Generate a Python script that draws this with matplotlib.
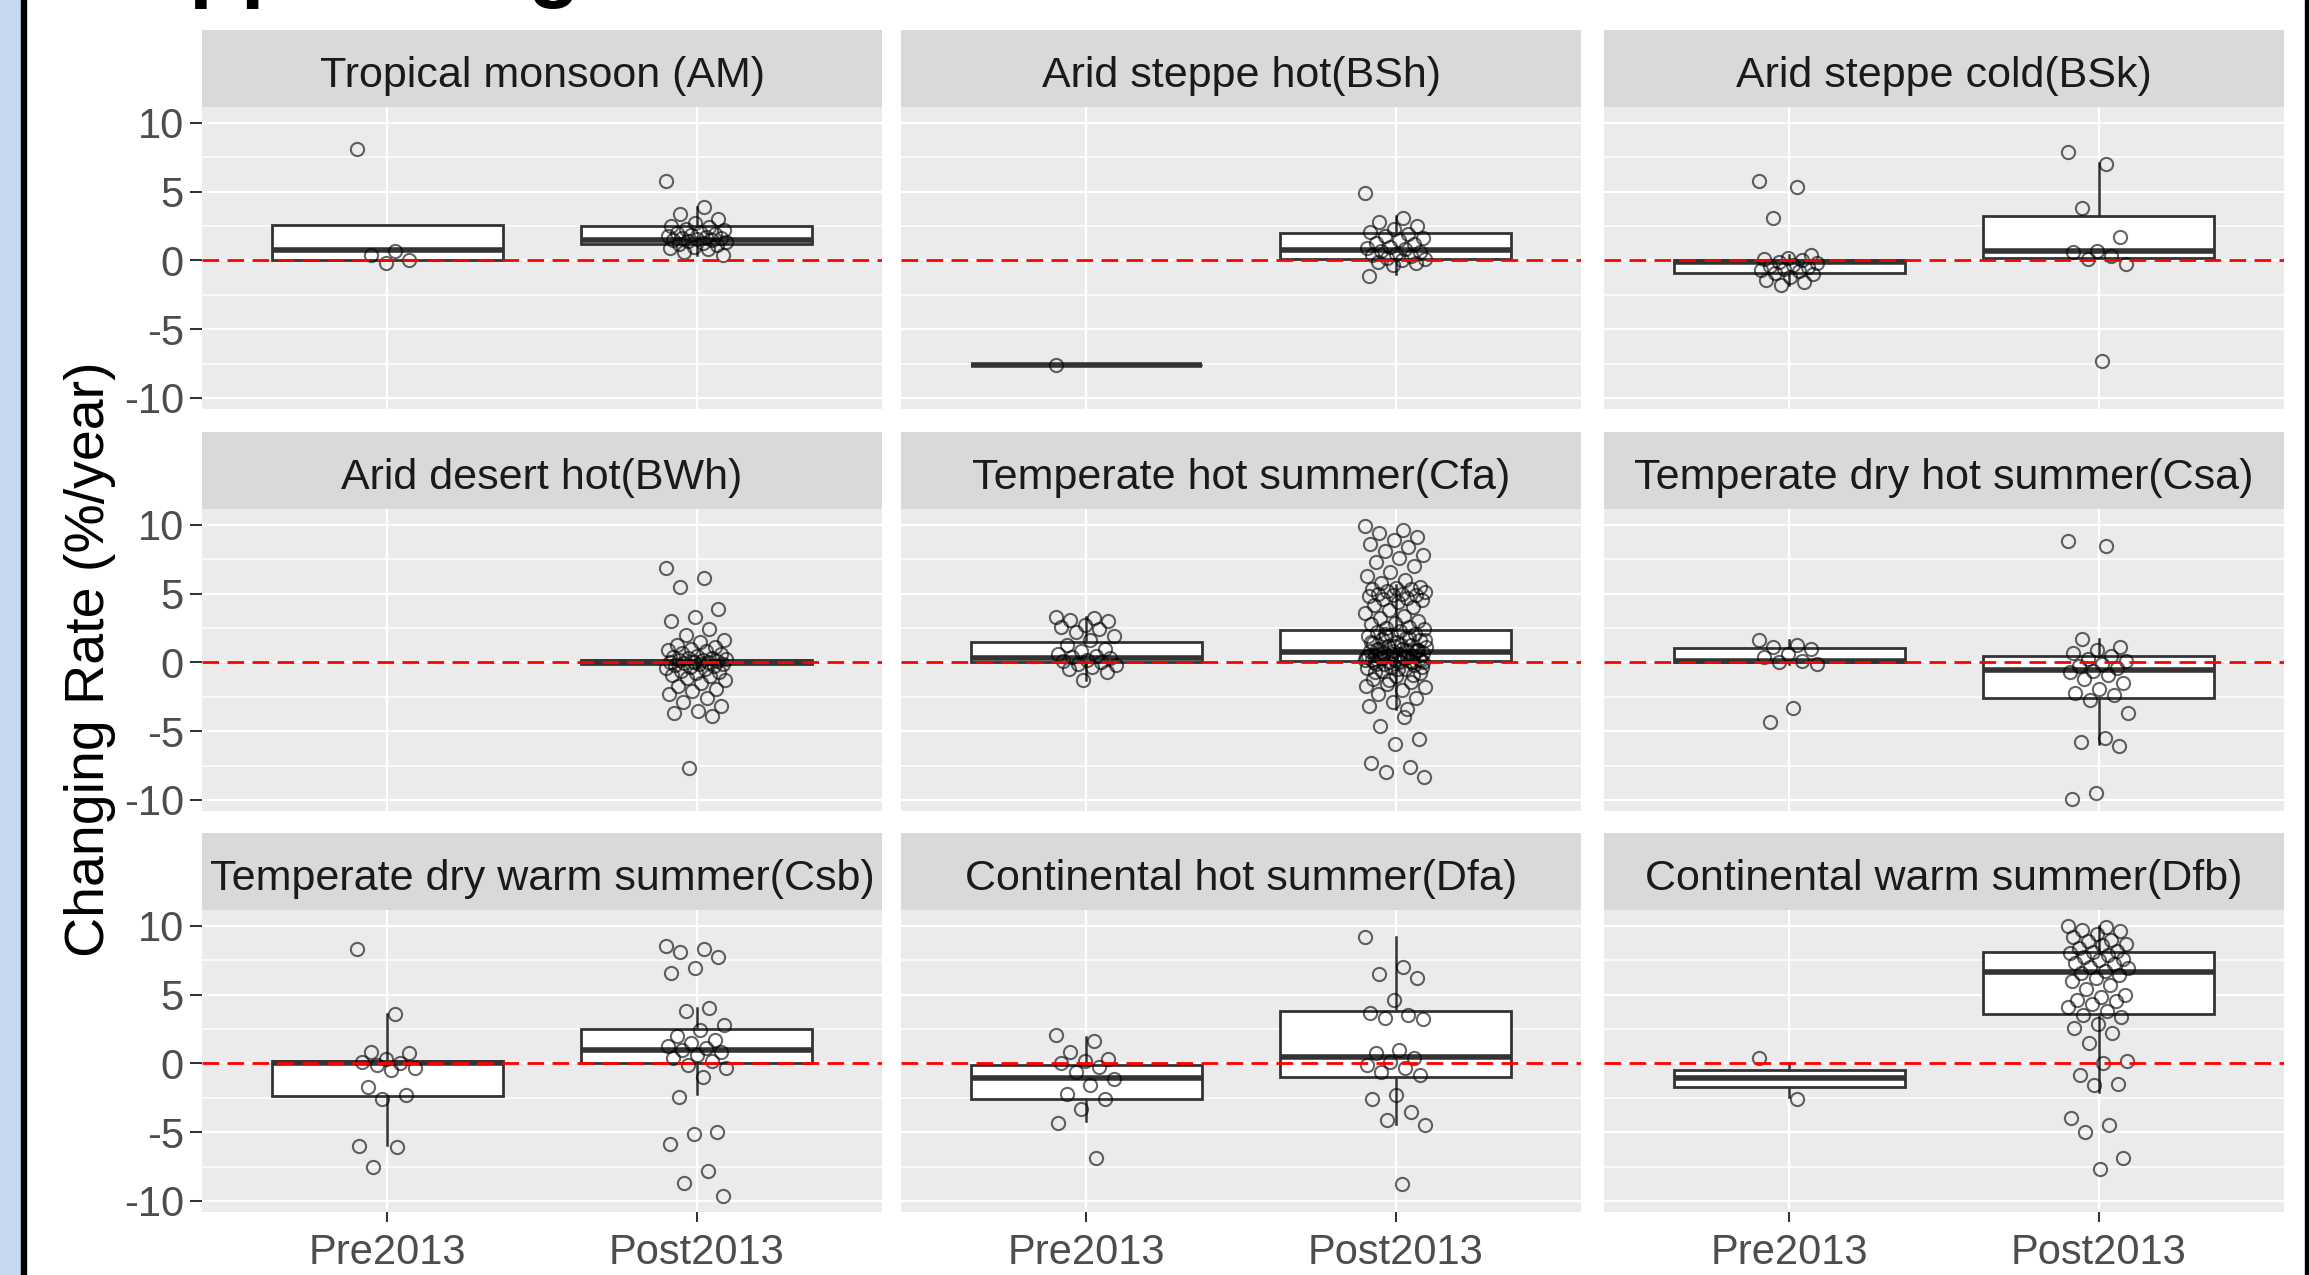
import numpy as np
import matplotlib.pyplot as plt
from matplotlib.patches import Rectangle

plt.rcParams['font.family'] = ['Liberation Sans', 'DejaVu Sans']
plt.rcParams['axes.unicode_minus'] = False

# ---- data ----
zones = ['Tropical monsoon (AM)', 'Arid steppe hot(BSh)', 'Arid steppe cold(BSk)',
         'Arid desert hot(BWh)', 'Temperate hot summer(Cfa)', 'Temperate dry hot summer(Csa)',
         'Temperate dry warm summer(Csb)', 'Continental hot summer(Dfa)', 'Continental warm summer(Dfb)']
groups = ['Pre2013', 'Post2013']

am_pre = [8.1, 0.7, 0.4, 0.0, -0.2]
am_post = [5.75, 3.9, 3.4, 3.0, 2.7, 2.5, 2.4, 2.3, 2.2, 2.1, 2.0, 1.9, 1.85, 1.8, 1.7, 1.65,
           1.6, 1.55, 1.5, 1.45, 1.4, 1.35, 1.3, 1.2, 1.1, 1.0, 0.9, 0.8, 0.6, 0.4]
bsh_pre = [-7.6]
bsh_post = [4.9, 3.05, 2.8, 2.5, 2.3, 2.1, 1.9, 1.8, 1.6, 1.5, 1.3, 1.2, 1.0, 0.9, 0.8, 0.7,
            0.6, 0.5, 0.4, 0.3, 0.2, 0.1, 0.0, -0.1, -0.2, -0.3, -1.1]
bsk_pre = [5.75, 5.3, 3.1, 0.4, 0.2, 0.1, 0.0, -0.1, -0.2, -0.3, -0.4, -0.5, -0.6, -0.7,
           -0.8, -0.9, -1.0, -1.2, -1.4, -1.6, -1.8]
bsk_post = [7.9, 7.0, 3.8, 1.7, 0.7, 0.6, 0.35, 0.1, -0.25, -7.3]
bwh_pre = []
bwh_post = [6.85, 6.1, 5.5, 3.9, 3.3, 3.0, 2.4, 2.0, 1.6, 1.5, 1.3, 1.1, 1.0, 0.9, 0.8, 0.7,
            0.6, 0.5, 0.4, 0.35, 0.3, 0.25, 0.2, 0.15, 0.1, 0.05, 0.0, 0.0, -0.05, -0.1,
            -0.15, -0.2, -0.25, -0.3, -0.4, -0.5, -0.6, -0.7, -0.8, -0.9, -1.0, -1.1, -1.3,
            -1.5, -1.7, -1.9, -2.1, -2.3, -2.6, -2.9, -3.2, -3.5, -3.7, -3.9, -7.7]
cfa_pre = [3.3, 3.2, 3.1, 3.0, 2.7, 2.6, 2.4, 2.2, 1.9, 1.6, 1.3, 1.0, 0.8, 0.6, 0.5, 0.4,
           0.3, 0.2, 0.1, 0.0, -0.1, -0.2, -0.3, -0.5, -0.7, -1.3]
cfa_post = [9.9, 9.6, 9.4, 9.1, 8.9, 8.6, 8.4, 8.1, 7.8, 7.6, 7.3, 7.0, 6.6, 6.3, 6.0, 5.8,
            5.5, 5.4, 5.3, 5.3, 5.2, 5.1, 5.0, 5.0, 4.9, 4.9, 4.8, 4.7, 4.6, 4.5, 4.4, 4.2,
            4.0, 3.8, 3.6, 3.4, 3.2, 3.0, 2.9, 2.8, 2.6, 2.5, 2.4, 2.3, 2.2, 2.1, 2.0, 1.9,
            1.8, 1.7, 1.6, 1.5, 1.4, 1.3, 1.2, 1.1, 1.0, 0.95, 0.9, 0.85, 0.8, 0.75, 0.7,
            0.65, 0.6, 0.55, 0.5, 0.45, 0.4, 0.35, 0.3, 0.25, 0.2, 0.15, 0.1, 1.9, 1.6, 1.3,
            1.0, 0.8, 0.6, 0.5, 0.4, 0.3, 0.2, 0.1, 0.05, 0.0, 0.0, 0.2, 0.4, 0.6, 0.9, 1.2,
            1.5, 1.8, 2.1, 0.05, 0.0, -0.1, -0.2, -0.3, -0.4, -0.5, -0.6, -0.8, -1.0, -1.2,
            -1.4, -1.6, -1.8, -2.0, -2.3, -2.6, -2.9, -3.2, -3.4, -0.1, -0.3, -0.5, -0.7,
            -0.9, -1.3, -1.7, -4.0, -4.6, -5.6, -5.9, -7.3, -7.6, -8.0, -8.3]
csa_pre = [1.6, 1.3, 1.1, 1.0, 0.6, 0.4, 0.1, 0.0, -0.1, -3.3, -4.3]
csa_post = [8.8, 8.45, 1.7, 1.1, 0.9, 0.7, 0.5, 0.25, 0.1, -0.1, -0.25, -0.4, -0.6, -0.7,
            -0.9, -1.2, -1.5, -1.95, -2.2, -2.4, -2.7, -3.7, -5.5, -5.8, -6.1, -9.5, -9.9]
csb_pre = [8.3, 3.6, 0.85, 0.73, 0.3, 0.1, 0.0, -0.1, -0.3, -0.5, -1.7, -2.3, -2.6, -6.0,
           -6.1, -7.5]
csb_post = [8.55, 8.3, 8.1, 7.7, 6.97, 6.6, 4.0, 3.8, 2.8, 2.45, 2.0, 1.7, 1.47, 1.3, 1.1,
            1.0, 0.86, 0.6, 0.37, 0.2, -0.12, -0.37, -0.98, -2.45, -5.0, -5.1, -5.87, -7.8,
            -8.7, -9.66]
dfa_pre = [2.1, 1.6, 0.85, 0.3, 0.17, 0.0, -0.25, -0.6, -1.1, -1.6, -2.2, -2.57, -3.3, -4.3,
           -6.85]
dfa_post = [9.2, 7.0, 6.5, 6.2, 4.6, 3.7, 3.5, 3.3, 3.2, 1.0, 0.73, 0.4, 0.12, -0.1, -0.37,
            -0.6, -0.86, -2.3, -2.57, -3.55, -4.1, -4.5, -8.8]
dfb_pre = [0.37, -2.57]
dfb_post = [10.0, 9.9, 9.7, 9.6, 9.4, 9.2, 9.0, 8.9, 8.7, 8.6, 8.4, 8.2, 8.1, 8.0, 7.9, 7.7,
            7.6, 7.5, 7.3, 7.2, 7.0, 6.9, 6.7, 6.6, 6.4, 6.2, 6.0, 5.7, 5.4, 5.0, 4.8, 4.6,
            4.5, 4.3, 4.1, 3.8, 3.5, 3.4, 2.9, 2.6, 2.2, 1.47, 0.15, 0.05, -0.86, -1.5, -1.6,
            -4.0, -4.5, -5.0, -6.85, -7.7]

pre_points = [am_pre, bsh_pre, bsk_pre, bwh_pre, cfa_pre, csa_pre, csb_pre, dfa_pre, dfb_pre]
post_points = [am_post, bsh_post, bsk_post, bwh_post, cfa_post, csa_post, csb_post, dfa_post, dfb_post]

# box statistics (q1, median, q3, lower whisker, upper whisker)
pre_q1 = [0.05, -7.6, -0.9, None, 0.05, 0.0, -2.4, -2.6, -1.7]
pre_med = [0.75, -7.6, -0.15, None, 0.35, 0.12, 0.0, -1.05, -1.05]
pre_q3 = [2.6, -7.6, 0.05, None, 1.45, 1.03, 0.2, -0.12, -0.49]
pre_lo = [0.05, -7.6, -1.8, None, -1.3, -0.1, -5.9, -4.15, -2.45]
pre_hi = [2.6, -7.6, 0.4, None, 3.3, 1.6, 3.6, 1.95, 0.0]
post_q1 = [1.2, 0.12, 0.15, -0.15, 0.12, -2.57, 0.0, -0.98, 3.6]
post_med = [1.5, 0.73, 0.7, 0.0, 0.73, -0.54, 0.98, 0.49, 6.67]
post_q3 = [2.5, 1.96, 3.2, 0.15, 2.32, 0.44, 2.52, 3.8, 8.07]
post_lo = [0.4, -1.0, 0.15, -0.5, -3.4, -5.9, -2.2, -4.4, -2.08]
post_hi = [3.9, 3.2, 7.1, 0.5, 5.6, 1.7, 4.0, 9.2, 10.0]

# ---- layout in pixels ----
W, H = 2309, 1275
fig = plt.figure(figsize=(W / 100, H / 100), dpi=100)


def px_axes(x0, y0, w, h):
    return fig.add_axes([x0 / W, 1 - (y0 + h) / H, w / W, h / H])


col_x = [202, 901, 1604]
col_w = 680
row_top = [30, 432, 833]
strip_h = 77
panel_h = 302

edge = '#333333'
for i, zone in enumerate(zones):
    r, c = divmod(i, 3)
    ax = px_axes(col_x[c], row_top[r] + strip_h, col_w, panel_h)
    ax.set_facecolor('#EBEBEB')
    for s in ax.spines.values():
        s.set_visible(False)

    stats, pos = [], []
    if pre_q1[i] is not None:
        stats.append(dict(q1=pre_q1[i], med=pre_med[i], q3=pre_q3[i],
                          whislo=pre_lo[i], whishi=pre_hi[i], fliers=[]))
        pos.append(1)
    stats.append(dict(q1=post_q1[i], med=post_med[i], q3=post_q3[i],
                      whislo=post_lo[i], whishi=post_hi[i], fliers=[]))
    pos.append(2)
    ax.bxp(stats, positions=pos, widths=0.75, showfliers=False, showcaps=False,
           patch_artist=True, manage_ticks=False,
           boxprops=dict(facecolor='white', edgecolor=edge, lw=2.0),
           medianprops=dict(color=edge, lw=4.0),
           whiskerprops=dict(color=edge, lw=1.8), zorder=2)

    for p, vals in ((1, pre_points[i]), (2, post_points[i])):
        if len(vals) == 0:
            continue
        offs = (np.arange(len(vals)) * 0.618034 % 1 - 0.5) * 0.2
        ax.plot(p + offs, vals, 'o', ms=9.5, mfc='none', mec=(0, 0, 0, 0.6),
                mew=1.5, zorder=3)

    ax.axhline(0, color='red', ls=(0, (6, 3)), lw=2.0, zorder=4)

    ax.set_xlim(0.4, 2.6)
    ax.set_ylim(-10.8, 11.15)
    ax.set_yticks([-10, -5, 0, 5, 10])
    ax.set_yticks([-7.5, -2.5, 2.5, 7.5], minor=True)
    ax.set_xticks([1, 2])
    ax.set_xticklabels(groups)
    ax.grid(which='major', color='white', lw=1.6)
    ax.grid(which='minor', axis='y', color='white', lw=1.1)
    ax.set_axisbelow(True)
    ax.tick_params(which='minor', length=0)
    ax.tick_params(axis='y', length=8.5, width=1.45, color=edge, pad=4.5,
                   labelsize=30, labelcolor='#4D4D4D', labelleft=(c == 0))
    ax.tick_params(axis='x', length=7.2, width=1.45, color=edge, pad=8,
                   labelsize=30, labelcolor='#4D4D4D', labelbottom=(r == 2))
    if c != 0:
        ax.tick_params(axis='y', length=0)
    if r != 2:
        ax.tick_params(axis='x', length=0)

    sax = px_axes(col_x[c], row_top[r], col_w, strip_h)
    sax.set_facecolor('#D9D9D9')
    sax.set_xticks([])
    sax.set_yticks([])
    for s in sax.spines.values():
        s.set_visible(False)
    sax.text(0.5, 0.40, zone, ha='center', va='center', fontsize=31, color='#1A1A1A',
             transform=sax.transAxes)

fig.text(90 / W, 1 - 659 / H, 'Changing Rate (%/year)', rotation=90,
         ha='center', va='center', fontsize=40, color='black')

# title of the figure, cut off at the top edge of the screenshot
fig.text(128 / W, 1 + 9 / H, 'Upper range', fontsize=61, fontweight='bold',
         ha='left', va='baseline', color='black')

# window frame remnants
fig.patches.append(Rectangle((0, 0), 21 / W, 1, transform=fig.transFigure,
                             color='#C6D9F0', zorder=0))
fig.patches.append(Rectangle((21 / W, 0), 5 / W, 1, transform=fig.transFigure,
                             color='black', zorder=0))
fig.patches.append(Rectangle((2305 / W, 0), 4 / W, 1, transform=fig.transFigure,
                             color='black', zorder=0))

fig.savefig('out.png', dpi=100)
